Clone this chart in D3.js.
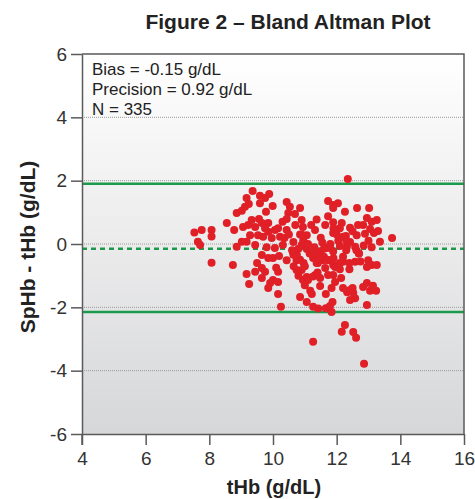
<!DOCTYPE html>
<html>
<head>
<meta charset="utf-8">
<script src="https://cdn.jsdelivr.net/npm/d3@7"></script>
<style>
  body { margin: 0; background: #fff; }
  svg text { font-family: "Liberation Sans", Arial, Helvetica, sans-serif; }
</style>
</head>
<body>
<div id="chart"></div>
<script>
// tHb (x) and SpHb - tHb (y)
var tHb = [
  7.53, 7.76, 7.64, 7.71, 8.07, 8.07, 8.07,
  8.55, 8.78, 8.86, 9.02, 9.12, 9.24, 9.17, 9.36, 9.59, 9.75, 9.88, 9.59, 9.99, 9.78, 10.43, 10.48, 10.53,
  9.06, 9.22, 9.33, 9.56, 9.44, 9.65, 9.85, 9.75, 9.85, 10.06, 10.16, 10.22, 9.96, 9.69, 9.53, 9.28, 9.44, 9.17, 9.02, 8.86,
  10.06, 10.31, 10.36, 10.43, 9.65, 9.85, 10.00, 10.19, 9.65, 8.74, 9.17, 9.44, 9.75, 9.65, 9.25, 9.91, 10.00, 10.16, 9.85, 10.16, 10.16, 10.25,
  10.43, 10.63, 10.74, 10.74, 10.94, 11.06, 11.17, 10.85, 11.06, 11.22, 11.33, 11.41, 11.26, 11.37,
  12.35, 11.73, 11.89, 12.04, 11.89, 12.26, 12.64, 13.02, 12.95, 13.10, 13.26, 12.67, 12.83, 12.89, 13.05, 13.17, 13.30, 13.36, 13.10, 13.74,
  10.85, 11.37, 11.64, 11.73, 11.89, 12.16, 12.42, 12.10, 12.29, 11.89, 12.20, 12.63, 12.42, 12.58, 12.32, 12.10, 11.89, 11.69, 11.48,
  11.06, 11.32, 10.94, 10.90, 10.69, 10.43, 10.64, 10.90, 11.06, 11.32, 10.64, 10.85, 10.96, 10.75, 11.53, 11.89, 12.20, 12.58, 12.99, 13.10, 13.26, 12.95, 11.57,
  11.10, 11.26, 11.48, 11.26, 11.42, 11.66, 11.66, 11.84, 11.87, 11.84, 11.79, 11.89, 12.14, 12.20, 12.33, 12.42, 12.50, 12.58, 12.52, 12.42, 12.83, 12.95, 13.05, 13.14, 13.24, 12.95,
  12.26, 12.16, 12.52, 12.61, 11.26, 12.86, 11.64, 11.73, 11.95, 11.73, 11.48, 10.90,
  10.80, 11.30, 11.55, 11.80, 12.05, 12.30, 11.60, 11.90, 10.95, 11.15, 12.10, 12.40, 12.70, 12.75, 12.62, 12.85, 10.65, 10.85,
  10.70, 10.90, 11.10, 11.30, 11.50, 11.70, 11.90, 12.10, 12.30, 10.60, 11.00, 11.40, 11.80, 12.20, 12.50,
  10.80, 11.20, 11.60, 12.00, 12.40, 10.50, 11.00, 11.45, 11.95, 12.70, 13.00, 9.80, 10.30, 9.50, 10.10
];
var diff = [
  0.36, 0.44, 0.07, -0.03, 0.44, 0.24, -0.59,
  0.66, 0.44, 0.98, 1.05, 1.18, 1.26, 1.45, 1.67, 1.52, 1.45, 1.58, 1.29, 1.20, 1.02, 1.33, 0.98, 1.18,
  0.54, 0.60, 0.76, 0.79, 0.54, 0.66, 0.66, 0.50, 0.39, 0.44, 0.50, 0.23, 0.19, 0.23, 0.28, 0.28, -0.03, 0.07, 0.07, -0.09,
  -0.13, -0.03, 0.19, 0.44, -0.35, -0.44, -0.44, -0.38, -0.76, -0.66, -0.95, -0.88, -0.88, -1.07, -1.26, -1.23, -1.14, -1.20, -1.39, -0.88, -1.58, -1.98,
  -0.51, -0.25, -0.51, -0.82, -1.14, -1.04, -1.48, -1.67, -1.83, -1.58, -0.98, -0.60, -0.44, -0.60,
  2.05, 1.36, 1.23, 1.29, 1.14, 1.02, 1.14, 1.14, 0.82, 0.70, 0.76, 0.60, 0.60, 0.32, 0.47, 0.35, 0.41, 0.07, -0.10, 0.19,
  1.14, 0.77, 0.60, 0.88, 0.69, 0.66, 0.51, 0.50, 0.25, 0.35, 0.23, 0.28, 0.06, -0.09, -0.09, -0.06, -0.24, -0.13, -0.24,
  0.28, 0.44, 0.54, 0.76, 0.95, 0.79, 0.06, -0.03, -0.16, -0.35, -0.34, -0.50, -0.60, -0.35, -0.38, -0.66, -0.56, -0.56, -0.51, -0.66, -0.66, -0.73, -0.51,
  -1.14, -1.03, -1.33, -1.98, -2.04, -1.58, -2.03, -2.15, -1.83, -1.39, -1.96, -0.98, -1.07, -1.39, -1.52, -1.77, -1.39, -1.71, -1.54, -1.45, -1.36, -1.23, -1.48, -1.32, -1.48, -1.93,
  -2.56, -2.77, -2.78, -2.96, -3.09, -3.78, -0.76, -0.51, -0.73, -0.98, -1.07, -0.82,
  -0.15, -0.10, 0.05, -0.12, 0.10, -0.20, -0.40, -0.45, 0.12, -0.30, -0.60, -0.80, -0.30, -0.55, -0.20, -0.05, -0.70, 0.30,
  0.60, 0.30, 0.00, -0.30, 0.20, -0.50, 0.50, -0.80, 0.10, -0.20, -0.70, -0.90, 0.00, -0.40, 0.40,
  -1.00, 0.60, -0.15, 0.30, -0.60, 0.30, -1.30, -0.45, -1.20, -0.30, 0.10, -0.10, 0.70, -0.60, -0.75
];
var xTicks = [4, 6, 8, 10, 12, 14, 16];
var yTicks = [-6, -4, -2, 0, 2, 4, 6];
var gridValues = [-4, -2, 0, 2, 4];
var bias = -0.15;
var upperLimit = 1.9;
var lowerLimit = -2.15;
var statsText = ["Bias = -0.15 g/dL", "Precision = 0.92 g/dL", "N = 335"];

var W = 475, H = 499;
var margin = {top: 54, right: 11, bottom: 65, left: 82};
var width = W - margin.left - margin.right,
    height = H - margin.top - margin.bottom;

var svg = d3.select("#chart").append("svg").attr("width", W).attr("height", H);

var defs = svg.append("defs");
var grad = defs.append("linearGradient").attr("id", "bg")
    .attr("x1", 0).attr("y1", 0).attr("x2", 0).attr("y2", 1);
grad.append("stop").attr("offset", "0%").attr("stop-color", "#ffffff");
grad.append("stop").attr("offset", "50%").attr("stop-color", "#ebebec");
grad.append("stop").attr("offset", "100%").attr("stop-color", "#d6d7d9");

var x = d3.scaleLinear().domain([4, 16]).range([0, width]);
var y = d3.scaleLinear().domain([-6, 6]).range([height, 0]);

var g = svg.append("g").attr("transform", "translate(" + margin.left + "," + margin.top + ")");

g.append("rect").attr("width", width).attr("height", height).style("fill", "url(#bg)");

// dotted grid
g.selectAll(".grid").data(gridValues).enter().append("line")
    .attr("class", "grid")
    .attr("x1", 0).attr("x2", width)
    .attr("y1", function (d) { return y(d); })
    .attr("y2", function (d) { return y(d); })
    .style("stroke", "#9a9a9a").style("stroke-width", 1)
    .style("stroke-dasharray", "1,1");

// limits of agreement + bias
g.selectAll(".limit").data([upperLimit, lowerLimit]).enter().append("line")
    .attr("class", "limit")
    .attr("x1", 0).attr("x2", width)
    .attr("y1", function (d) { return y(d); })
    .attr("y2", function (d) { return y(d); })
    .style("stroke", "#1b9a4b").style("stroke-width", 2.5);
g.append("line")
    .attr("x1", 0).attr("x2", width)
    .attr("y1", y(bias)).attr("y2", y(bias))
    .style("stroke", "#1b9a4b").style("stroke-width", 2.5)
    .style("stroke-dasharray", "5,4");

// points
g.selectAll("circle").data(tHb).enter().append("circle")
    .attr("cx", function (d) { return x(d); })
    .attr("cy", function (d, i) { return y(diff[i]); })
    .attr("r", 4)
    .style("fill", "#e01f26");

// frame (top, right)
g.append("path")
    .attr("d", "M0,0H" + width + "V" + height)
    .style("fill", "none").style("stroke", "#5a5a5a").style("stroke-width", 1.5);

// axes - plain hyphen for negatives, like the original
var fmt = function (d) { return String(d); };
var xAxis = g.append("g").attr("transform", "translate(0," + height + ")")
    .call(d3.axisBottom(x).tickValues(xTicks).tickFormat(fmt).tickSize(11).tickPadding(7).tickSizeOuter(0));
var yAxis = g.append("g")
    .call(d3.axisLeft(y).tickValues(yTicks).tickFormat(fmt).tickSize(11).tickPadding(4).tickSizeOuter(0));
// left axis runs a bit past the bottom like the original
g.append("line").attr("x1", 0).attr("x2", 0).attr("y1", height).attr("y2", height + 11)
    .style("stroke", "#5a5a5a").style("stroke-width", 1.5);

[xAxis, yAxis].forEach(function (a) {
    a.selectAll(".domain").style("stroke", "#5a5a5a").style("stroke-width", 1.5);
    a.selectAll("line").style("stroke", "#5a5a5a").style("stroke-width", 1.5);
    a.selectAll("text").style("font-size", "19px").style("fill", "#333")
        .style("font-family", "'Liberation Sans', Arial, sans-serif");
});

// stats text
svg.selectAll(".stat").data(statsText).enter().append("text")
    .attr("class", "stat")
    .attr("x", 92)
    .attr("y", function (d, i) { return 75 + i * 20; })
    .style("font-size", "17px").style("fill", "#222")
    .text(function (d) { return d; });

// titles
svg.append("text").attr("x", 288).attr("y", 29).attr("text-anchor", "middle")
    .style("font-size", "21px").style("font-weight", "bold").style("fill", "#222")
    .text("Figure 2 – Bland Altman Plot");
svg.append("text").attr("x", 274).attr("y", 494).attr("text-anchor", "middle")
    .style("font-size", "20px").style("font-weight", "bold").style("fill", "#222")
    .text("tHb (g/dL)");
svg.append("text").attr("transform", "translate(35,247) rotate(-90)").attr("text-anchor", "middle")
    .style("font-size", "21px").style("font-weight", "bold").style("fill", "#222")
    .text("SpHb - tHb (g/dL)");
</script>
</body>
</html>
